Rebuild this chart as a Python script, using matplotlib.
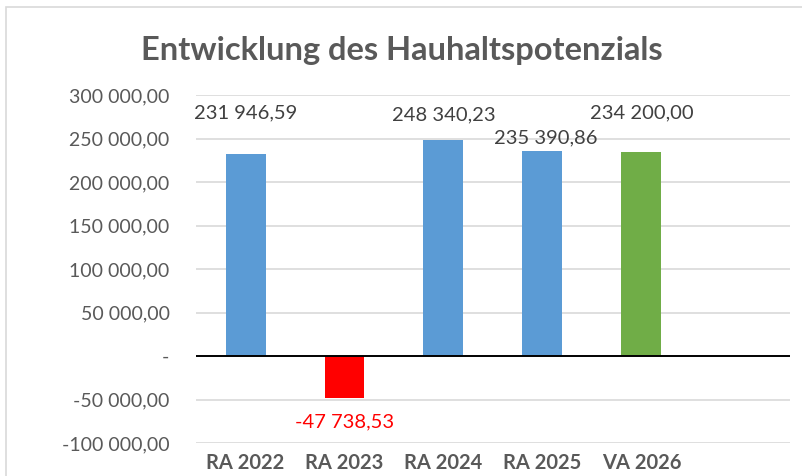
import matplotlib.pyplot as plt
from matplotlib.patches import Rectangle

# Daten
kategorien = ['RA 2022', 'RA 2023', 'RA 2024', 'RA 2025', 'VA 2026', '']
werte = [231946.59, -47738.53, 248340.23, 235390.86, 234200.00]
farben = ['#5B9BD5', '#FF0000', '#5B9BD5', '#5B9BD5', '#70AD47']
y_ticks = [-100000, -50000, 0, 50000, 100000, 150000, 200000, 250000, 300000]


def fmt(v):
    if v == 0:
        return '-'
    s = f'{v:,.2f}'
    return s.replace(',', ' ').replace('.', ',')


plt.rcParams['font.family'] = ['Lato', 'DejaVu Sans']
grau = '#595959'

fig = plt.figure(figsize=(8.02, 4.76), dpi=100)
ax = fig.add_axes([0.2444, 0.0693, 0.7406, 0.7311])

x = list(range(len(kategorien)))
ax.bar(x[:len(werte)], werte, width=0.404, color=farben, zorder=3)
ax.set_xlim(-0.5, len(kategorien) - 0.5)
ax.set_ylim(-100000, 300000)

ax.set_yticks(y_ticks)
ax.set_yticklabels([fmt(v) for v in y_ticks], fontsize=14, color=grau)
ax.set_xticks(x)
ax.set_xticklabels(kategorien, fontsize=14.5, fontweight='bold', color=grau)
ax.tick_params(axis='y', length=0, pad=19)
ax.tick_params(axis='x', length=0, pad=7)

for t in y_ticks:
    if t != 0:
        ax.axhline(t, color='#D9D9D9', linewidth=1.2, zorder=1)
ax.axhline(0, color='black', linewidth=1.4, zorder=4)
for s in ax.spines.values():
    s.set_visible(False)

# Datenbeschriftungen (Versatz in Punkten, wie im Original verschoben)
versatz = [(0, 29.5), (0, -17.5), (0, 18), (2, 9.5), (0, 28)]
for i, v in enumerate(werte):
    dx, dy = versatz[i]
    ax.annotate(fmt(v), (i, v), xytext=(dx, dy), textcoords='offset points',
                ha='center', va='center', fontsize=14.5,
                color='#FF0000' if v < 0 else '#404040')

fig.text(0.501, 0.893, 'Entwicklung des Hauhaltspotenzials', ha='center', va='center',
         fontsize=23.5, fontweight='bold', color=grau)

fig.patches.append(Rectangle((6 / 802, -0.1), 1.2, 1 - 7 / 476 + 0.1,
                             transform=fig.transFigure, fill=False,
                             edgecolor='#D9D9D9', linewidth=1.2))

fig.savefig('out.png', dpi=100)
